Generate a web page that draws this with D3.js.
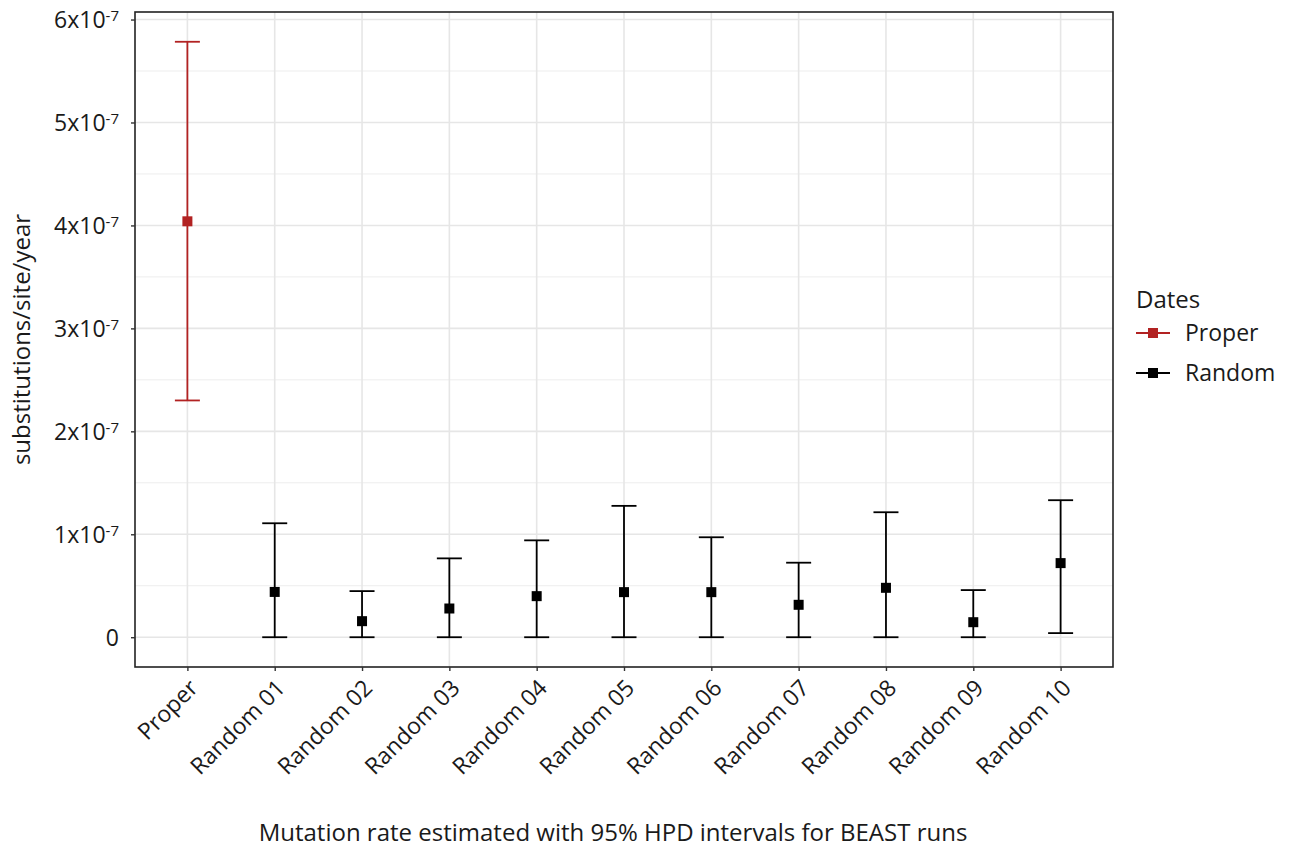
<!DOCTYPE html>
<html>
<head>
<meta charset="utf-8">
<script src="https://cdnjs.cloudflare.com/ajax/libs/d3/7.8.5/d3.min.js"></script>
<style>
  body { margin: 0; background: #fff; }
  text { font-family: "Open Sans", "Noto Sans", sans-serif; fill: #1a1a1a; }
</style>
</head>
<body>
<svg id="chart" width="1294" height="851"></svg>
<script>
// data
var categories = ["Proper", "Random 01", "Random 02", "Random 03", "Random 04", "Random 05",
                  "Random 06", "Random 07", "Random 08", "Random 09", "Random 10"];
var dates = ["Proper", "Random", "Random", "Random", "Random", "Random",
             "Random", "Random", "Random", "Random", "Random"];
var meanRate = [4.04e-7, 0.44e-7, 0.156e-7, 0.279e-7, 0.399e-7, 0.438e-7,
                0.438e-7, 0.315e-7, 0.48e-7, 0.146e-7, 0.72e-7];
var lowerHPD = [2.30e-7, 0, 0, 0, 0, 0, 0, 0, 0, 0, 0.04e-7];
var upperHPD = [5.784e-7, 1.107e-7, 0.448e-7, 0.766e-7, 0.941e-7, 1.276e-7,
                0.971e-7, 0.724e-7, 1.214e-7, 0.458e-7, 1.331e-7];
var yTicks = [0, 1e-7, 2e-7, 3e-7, 4e-7, 5e-7, 6e-7];
var legendLabels = ["Proper", "Random"];
var colors = {Proper: "#b22222", Random: "#000000"};

var data = categories.map(function(c, i) {
    return {name: c, group: dates[i], mean: meanRate[i], lo: lowerHPD[i], hi: upperHPD[i]};
});

var panel = {left: 135, right: 1113, top: 12, bottom: 667};

var xScale = d3.scalePoint()
    .domain(categories)
    .range([panel.left, panel.right])
    .padding(0.6);

var lo = d3.min(lowerHPD), hi = d3.max(upperHPD);
var pad = (hi - lo) * 0.05;
var yScale = d3.scaleLinear()
    .domain([lo - pad, hi + pad])
    .range([panel.bottom, panel.top]);

var svg = d3.select("#chart");

// grid
var grid = svg.append("g");
var minor = d3.range(0.5e-7, 6.1e-7, 1e-7);
grid.selectAll(".minor").data(minor).enter().append("line")
    .attr("x1", panel.left).attr("x2", panel.right)
    .attr("y1", d => yScale(d)).attr("y2", d => yScale(d))
    .attr("stroke", "#ededed").attr("stroke-width", 1);
grid.selectAll(".hmajor").data(yTicks).enter().append("line")
    .attr("x1", panel.left).attr("x2", panel.right)
    .attr("y1", d => yScale(d)).attr("y2", d => yScale(d))
    .attr("stroke", "#e6e6e6").attr("stroke-width", 1.6);
grid.selectAll(".vmajor").data(categories).enter().append("line")
    .attr("x1", d => xScale(d)).attr("x2", d => xScale(d))
    .attr("y1", panel.top).attr("y2", panel.bottom)
    .attr("stroke", "#e6e6e6").attr("stroke-width", 1.6);

// error bars
var capW = 12.5;
var bars = svg.append("g").selectAll("g").data(data).enter().append("g")
    .attr("stroke", d => colors[d.group]).attr("stroke-width", 1.8);
bars.append("line")
    .attr("x1", d => xScale(d.name)).attr("x2", d => xScale(d.name))
    .attr("y1", d => yScale(d.lo)).attr("y2", d => yScale(d.hi));
bars.append("line")
    .attr("x1", d => xScale(d.name) - capW).attr("x2", d => xScale(d.name) + capW)
    .attr("y1", d => yScale(d.hi)).attr("y2", d => yScale(d.hi));
bars.append("line")
    .attr("x1", d => xScale(d.name) - capW).attr("x2", d => xScale(d.name) + capW)
    .attr("y1", d => yScale(d.lo)).attr("y2", d => yScale(d.lo));

var sq = 10;
svg.append("g").selectAll("rect").data(data).enter().append("rect")
    .attr("x", d => xScale(d.name) - sq / 2)
    .attr("y", d => yScale(d.mean) - sq / 2)
    .attr("width", sq).attr("height", sq)
    .attr("fill", d => colors[d.group]);

// panel border
svg.append("rect")
    .attr("x", panel.left).attr("y", panel.top)
    .attr("width", panel.right - panel.left).attr("height", panel.bottom - panel.top)
    .attr("fill", "none").attr("stroke", "#222").attr("stroke-width", 1.6);

// y axis
var yAxis = d3.axisLeft(yScale).tickValues(yTicks).tickSize(4).tickPadding(4).tickFormat("");
var yg = svg.append("g").attr("transform", "translate(" + panel.left + ",0)").call(yAxis);
yg.select(".domain").remove();
yg.selectAll(".tick line").attr("stroke", "#333").attr("stroke-width", 1.4);
yg.selectAll(".tick").each(function(d) {
    var t = d3.select(this).append("text")
        .attr("x", -16).attr("dy", "0.36em")
        .attr("text-anchor", "end")
        .style("font-size", "23px").style("fill", "#1a1a1a");
    if (d === 0) {
        t.text("0");
    } else {
        t.append("tspan").text(Math.round(d / 1e-7) + "x10");
        t.append("tspan").attr("dy", "-0.5em").style("font-size", "15px").text("-7");
    }
});

// x axis
var xAxis = d3.axisBottom(xScale).tickSize(4).tickFormat("");
var xg = svg.append("g").attr("transform", "translate(0," + panel.bottom + ")").call(xAxis);
xg.select(".domain").remove();
xg.selectAll(".tick line").attr("stroke", "#333").attr("stroke-width", 1.4);
xg.selectAll(".tick").append("text")
    .attr("text-anchor", "end")
    .attr("transform", "translate(0,11) rotate(-45)")
    .attr("dy", "0.7em")
    .style("font-size", "23px").style("fill", "#1a1a1a")
    .text(d => d);

// axis titles
svg.append("text")
    .attr("transform", "translate(30," + ((panel.top + panel.bottom) / 2) + ") rotate(-90)")
    .attr("text-anchor", "middle")
    .style("font-size", "24px")
    .text("substitutions/site/year");
svg.append("text")
    .attr("x", 613).attr("y", 841)
    .attr("text-anchor", "middle")
    .style("font-size", "24px")
    .text("Mutation rate estimated with 95% HPD intervals for BEAST runs");

// legend
var legend = svg.append("g").attr("transform", "translate(1136,0)");
legend.append("text").attr("x", 0).attr("y", 308).style("font-size", "24px").text("Dates");
var keys = legend.selectAll(".key").data(legendLabels).enter().append("g")
    .attr("transform", (d, i) => "translate(0," + (333 + i * 40) + ")");
keys.append("line").attr("x1", 0).attr("x2", 34)
    .attr("stroke", d => colors[d]).attr("stroke-width", 1.8);
keys.append("rect").attr("x", 17 - sq / 2).attr("y", -sq / 2)
    .attr("width", sq).attr("height", sq).attr("fill", d => colors[d]);
keys.append("text").attr("x", 49).attr("dy", "0.36em")
    .style("font-size", "23px").text(d => d);
</script>
</body>
</html>
